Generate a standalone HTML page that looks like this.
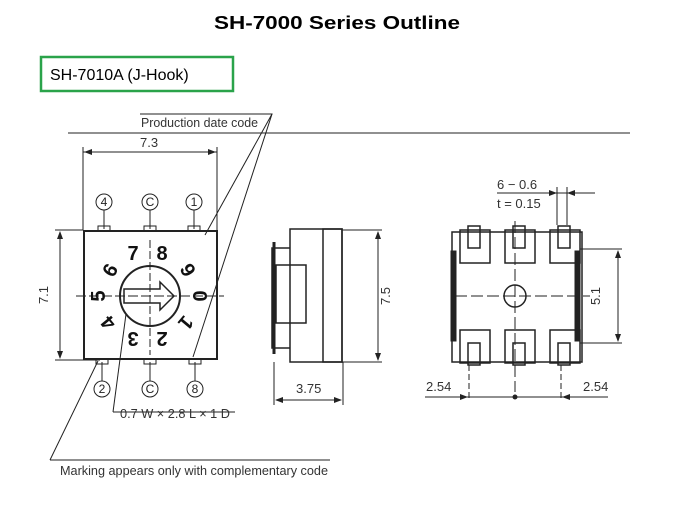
<!DOCTYPE html>
<html><head><meta charset="utf-8"><style>
body{margin:0;background:#fff;width:675px;height:506px;overflow:hidden}
svg{display:block}
</style></head><body>
<svg width="675" height="506" viewBox="0 0 675 506" xmlns="http://www.w3.org/2000/svg" font-family="Liberation Sans, sans-serif">
<text x="337" y="29" text-anchor="middle" font-size="18" font-weight="bold" textLength="246" lengthAdjust="spacingAndGlyphs">SH-7000 Series Outline</text>
<rect x="41" y="57" width="192" height="34" fill="none" stroke="#2aa34a" stroke-width="2.5"/>
<text x="50" y="80" font-size="16">SH-7010A (J-Hook)</text>
<g stroke="#222" fill="none" stroke-width="1">
<line x1="68" y1="133" x2="630" y2="133"/>
<polyline points="140,114 272,114 193,357"/>
<line x1="272" y1="114" x2="205" y2="235"/>
<line x1="83" y1="147" x2="83" y2="230"/><line x1="217" y1="147" x2="217" y2="230"/>
<line x1="83" y1="152" x2="217" y2="152"/>
<line x1="55" y1="230" x2="83" y2="230"/><line x1="55" y1="360" x2="100" y2="360"/>
<line x1="60" y1="232" x2="60" y2="358"/>
<rect x="84" y="231" width="133" height="128" stroke-width="2"/>
<circle cx="104" cy="202" r="8"/><circle cx="150" cy="202" r="8"/><circle cx="194" cy="202" r="8"/>
<circle cx="102" cy="389" r="8"/><circle cx="150" cy="389" r="8"/><circle cx="195" cy="389" r="8"/>
<line x1="104" y1="210" x2="104" y2="229"/><line x1="150" y1="210" x2="150" y2="229"/><line x1="194" y1="210" x2="194" y2="229"/>
<line x1="102" y1="362" x2="102" y2="381"/><line x1="150" y1="362" x2="150" y2="381"/><line x1="195" y1="362" x2="195" y2="381"/>
<rect x="98" y="226" width="12" height="5"/><rect x="144" y="226" width="12" height="5"/><rect x="188" y="226" width="12" height="5"/>
<rect x="96" y="359" width="12" height="5"/><rect x="144" y="359" width="12" height="5"/><rect x="189" y="359" width="12" height="5"/>
<circle cx="150" cy="296" r="30" stroke-width="2"/>
<line x1="150" y1="240" x2="150" y2="355" stroke-dasharray="8,3"/>
<line x1="76" y1="296" x2="224" y2="296" stroke-dasharray="10,3"/>
<path d="M124 289 H160 V282 L174 296 L160 310 V303 H124 Z" stroke-width="1.5"/>
<polyline points="113,412 126,314" /><line x1="113" y1="412" x2="235" y2="412"/>
<polyline points="50,460 98,361"/><line x1="50" y1="460" x2="330" y2="460"/>
<rect x="290" y="229" width="52" height="133" stroke-width="1.5"/>
<rect x="323" y="229" width="19" height="133" stroke-width="1.5"/>
<path d="M290 248 H272 V348 H290" stroke-width="1.5"/>
<rect x="276" y="265" width="30" height="58" stroke-width="1.5"/>
<line x1="274" y1="242" x2="274" y2="354" stroke-width="3"/>
<line x1="342" y1="230" x2="382" y2="230"/><line x1="342" y1="362" x2="382" y2="362"/>
<line x1="378" y1="232" x2="378" y2="360"/>
<line x1="274" y1="362" x2="274" y2="405"/><line x1="343" y1="362" x2="343" y2="405"/>
<line x1="276" y1="400" x2="341" y2="400"/>
<rect x="452" y="232" width="130" height="130" stroke-width="1.5"/>
<rect x="451" y="251" width="5" height="90" fill="#222"/><rect x="575" y="251" width="5" height="90" fill="#222"/>
<g stroke-width="1.5">
<rect x="460" y="230" width="30" height="33"/><rect x="505" y="230" width="30" height="33"/><rect x="550" y="230" width="30" height="33"/>
<rect x="460" y="330" width="30" height="33"/><rect x="505" y="330" width="30" height="33"/><rect x="550" y="330" width="30" height="33"/>
<rect x="468" y="226" width="12" height="22"/><rect x="513" y="226" width="12" height="22"/><rect x="558" y="226" width="12" height="22"/>
<rect x="468" y="343" width="12" height="22"/><rect x="513" y="343" width="12" height="22"/><rect x="558" y="343" width="12" height="22"/>
</g>
<circle cx="515" cy="296" r="11" stroke-width="1.5"/>
<line x1="455" y1="296" x2="590" y2="296" stroke-dasharray="12,4"/>
<line x1="515" y1="221" x2="515" y2="392" stroke-dasharray="12,4"/>
<line x1="469" y1="365" x2="469" y2="398" stroke-dasharray="6,3"/><line x1="561" y1="365" x2="561" y2="398" stroke-dasharray="6,3"/>
<line x1="425" y1="397" x2="608" y2="397"/>
<line x1="580" y1="249" x2="622" y2="249"/><line x1="580" y1="343" x2="622" y2="343"/>
<line x1="618" y1="251" x2="618" y2="341"/>
<line x1="557" y1="187" x2="557" y2="225"/><line x1="567" y1="187" x2="567" y2="225"/>
<line x1="497" y1="193" x2="595" y2="193"/>
</g>
<g fill="#222">
<polygon points="84,152 92,149 92,155"/><polygon points="216,152 208,149 208,155"/>
<polygon points="60,231 57,239 63,239"/><polygon points="60,359 57,351 63,351"/>
<polygon points="378,231 375,239 381,239"/><polygon points="378,361 375,353 381,353"/>
<polygon points="275,400 283,397 283,403"/><polygon points="342,400 334,397 334,403"/>
<polygon points="618,250 615,258 621,258"/><polygon points="618,342 615,334 621,334"/>
<polygon points="468,397 460,394 460,400"/><polygon points="562,397 570,394 570,400"/>
<polygon points="557,193 549,190 549,196"/><polygon points="567,193 575,190 575,196"/>
<circle cx="515" cy="397" r="2.5"/>
</g>
<g font-size="13" fill="#333" lengthAdjust="spacingAndGlyphs">
<text x="141" y="127" textLength="117" lengthAdjust="spacingAndGlyphs">Production date code</text>
<text x="140" y="147">7.3</text>
<text x="48" y="295" transform="rotate(-90 48 295)" text-anchor="middle">7.1</text>
<text x="390" y="296" transform="rotate(-90 390 296)" text-anchor="middle">7.5</text>
<text x="600" y="296" transform="rotate(-90 600 296)" text-anchor="middle">5.1</text>
<text x="296" y="393">3.75</text>
<text x="497" y="189">6 − 0.6</text>
<text x="497" y="208">t = 0.15</text>
<text x="426" y="391">2.54</text>
<text x="583" y="391">2.54</text>
<text x="120" y="418" textLength="110" lengthAdjust="spacingAndGlyphs">0.7 W × 2.8 L × 1 D</text>
<text x="60" y="475" textLength="268" lengthAdjust="spacingAndGlyphs">Marking appears only with complementary code</text>
</g>
<g font-size="12" text-anchor="middle" fill="#222">
<text x="104" y="206">4</text><text x="150" y="206">C</text><text x="194" y="206">1</text>
<text x="102" y="393">2</text><text x="150" y="393">C</text><text x="195" y="393">8</text>
</g>
<g font-size="20" font-weight="bold" text-anchor="middle" fill="#111">
<text x="133" y="260">7</text><text x="162" y="260">8</text>
<text x="188" y="277" transform="rotate(60 188 270)">9</text>
<text x="200" y="303" transform="rotate(90 200 296)">0</text>
<text x="186" y="330" transform="rotate(130 186 323)">1</text>
<text x="162" y="346" transform="rotate(180 162 339)">2</text>
<text x="133" y="346" transform="rotate(180 133 339)">3</text>
<text x="108" y="330" transform="rotate(-130 108 323)">4</text>
<text x="98" y="303" transform="rotate(-90 98 296)">5</text>
<text x="110" y="277" transform="rotate(-60 110 270)">6</text>
</g>
</svg>
</body></html>
